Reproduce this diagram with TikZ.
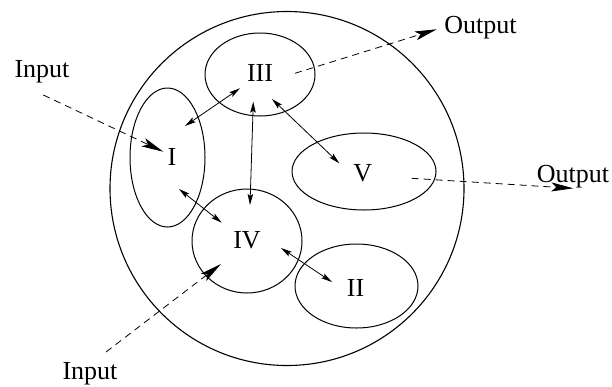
\documentclass[tikz,border=0pt]{standalone}
\usepackage{fontspec}
\setmainfont{Liberation Serif}
\usetikzlibrary{arrows.meta,shapes.geometric}
\begin{document}
\begin{tikzpicture}[x=1pt,y=-1pt,
  region/.style={draw, ellipse, line width=1pt, inner sep=0pt},
  lbl/.style={font=\fontsize{26}{30}\selectfont, inner sep=0pt, anchor=base},
  link/.style={line width=0.8pt, {Stealth[length=11pt,width=5.5pt,inset=2pt]}-{Stealth[length=11pt,width=5.5pt,inset=2pt]}},
  flow/.style={line width=0.8pt, dash pattern=on 7pt off 5pt, -{Stealth[length=22pt,width=9pt,inset=5pt]}}]
\useasboundingbox (0,0) rectangle (612,386);
% outer circle
\node[draw, circle, line width=1.1pt, minimum size=354pt, inner sep=0pt] (outer) at (287,188.5) {};
% regions
\node[region, minimum width=75pt, minimum height=139pt] (eI) at (167.5,157.5) {};
\node[region, minimum width=110pt, minimum height=83pt] (eIII) at (260,74.5) {};
\node[region, minimum width=144pt, minimum height=77pt] (eV) at (364,171.5) {};
\node[region, minimum width=110pt, minimum height=104pt] (eIV) at (247,241) {};
\node[region, minimum width=123pt, minimum height=84pt] (eII) at (356.5,286) {};
% labels
\node[lbl] (tI) at (172,165) {I};
\node[lbl] (tIII) at (260,81) {III};
\node[lbl] (tV) at (362.7,181.7) {V};
\node[lbl] (tIV) at (247,248.3) {IV};
\node[lbl] (tII) at (355.5,296.7) {II};
\node[lbl] (in1) at (42,77.5) {Input};
\node[lbl] (in2) at (90,379) {Input};
\node[lbl] (out1) at (480.5,33) {Output};
\node[lbl] (out2) at (573,182) {Output};
% connector end points
\coordinate (a1) at (185,126);   \coordinate (a2) at (240,88.3);
\coordinate (b1) at (253.3,101.7); \coordinate (b2) at (250,205);
\coordinate (c1) at (179,189);   \coordinate (c2) at (221.7,222.7);
\coordinate (d1) at (272,99);    \coordinate (d2) at (339.3,163.3);
\coordinate (e1) at (281,248);   \coordinate (e2) at (332,282);
\coordinate (f1) at (43.3,95);   \coordinate (f2) at (163.3,151.7);
\coordinate (g1) at (106,352);   \coordinate (g2) at (221,264);
\coordinate (h1) at (295,73.3);  \coordinate (h2) at (436.7,29.3);
\coordinate (k1) at (411.7,178.3); \coordinate (k2) at (573.3,188.3);
% links
\draw[link] (a1) -- (a2);
\draw[link] (b1) -- (b2);
\draw[link] (c1) -- (c2);
\draw[link] (d1) -- (d2);
\draw[link] (e1) -- (e2);
% flows
\draw[flow] (f1) -- (f2);
\draw[flow] (g1) -- (g2);
\draw[flow] (h1) -- (h2);
\draw[flow] (k1) -- (k2);
\end{tikzpicture}
\end{document}
